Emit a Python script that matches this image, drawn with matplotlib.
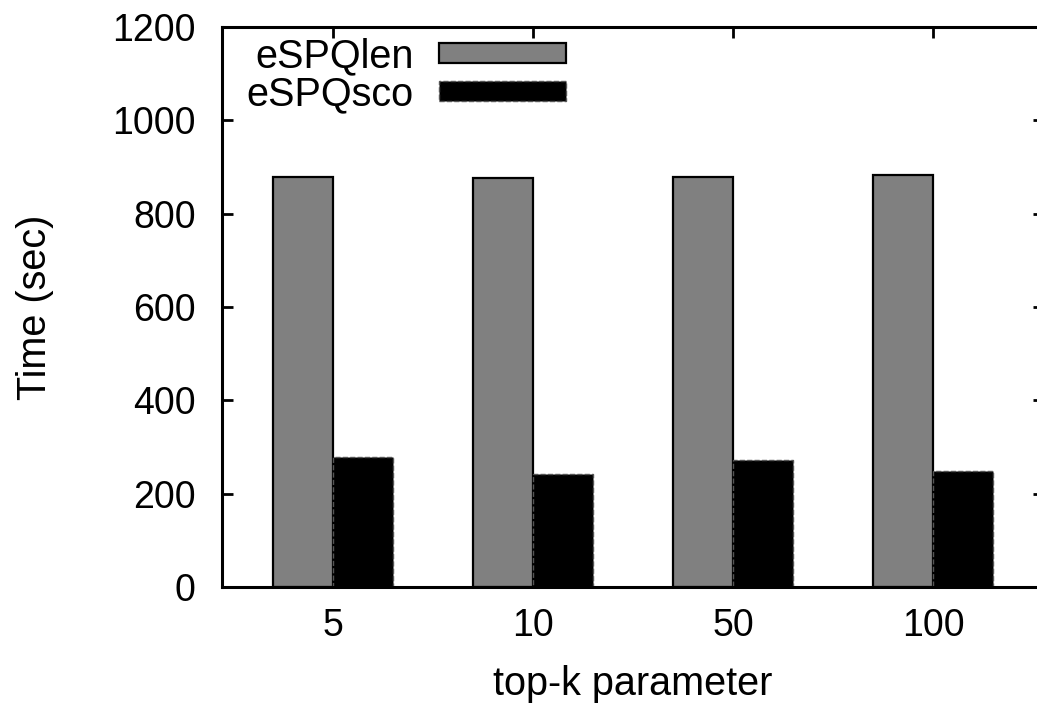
import numpy as np
import matplotlib
matplotlib.use("Agg")
import matplotlib.pyplot as plt

plt.rcParams["font.family"] = ["Liberation Sans", "DejaVu Sans"]

# data
categories = ["5", "10", "50", "100"]
espq_len = [878, 876, 878, 882]
espq_sco = [278, 242, 272, 248]

BAR_W = 0.3
FS_TICK = 27
FS_LABEL = 28.5

fig = plt.figure(figsize=(10.37, 7.04), dpi=100)
# right spine of the original lies just past the cropped image edge
ax = fig.add_axes([222 / 1037, 117 / 704, 822 / 1037, 560 / 704])

x = np.arange(len(categories))
ax.bar(x - BAR_W / 2, espq_len, BAR_W, color="#808080", edgecolor="black",
       linewidth=1.6, label="eSPQlen", zorder=2)
ax.bar(x + BAR_W / 2, espq_sco, BAR_W, color="black", edgecolor="#555555",
       linewidth=1.0, linestyle="--", label="eSPQsco", zorder=2)

ax.set_xlim(-0.555, len(categories) - 1 + 0.555)
ax.set_ylim(0, 1200)
ax.set_xticks(x)
ax.set_xticklabels(categories)
ax.set_yticks(range(0, 1201, 200))

ax.tick_params(axis="both", direction="in", length=8, width=2,
               labelsize=FS_TICK, top=True, right=True)
ax.tick_params(axis="x", pad=15)
ax.tick_params(axis="y", pad=19)
for s in ax.spines.values():
    s.set_linewidth(2.2)

ax.set_xlabel("top-k parameter", fontsize=FS_LABEL, labelpad=15)
ax.set_ylabel("Time (sec)", fontsize=FS_LABEL, labelpad=42)

ax.legend(loc="upper right", bbox_to_anchor=(566 / 1037, 667 / 704),
          bbox_transform=fig.transFigure, frameon=False, fontsize=FS_LABEL,
          markerfirst=False, handlelength=3.2, handleheight=0.42,
          handletextpad=0.65, labelspacing=0.0, borderpad=0, borderaxespad=0)

fig.savefig("out.png", dpi=100)
